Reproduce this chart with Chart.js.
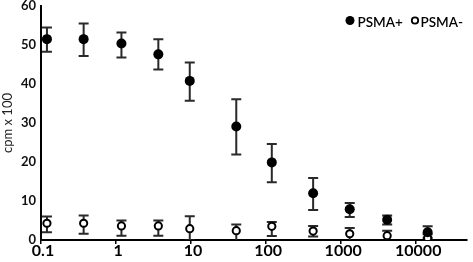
<!DOCTYPE html>
<html>
<head>
<meta charset="utf-8">
<script src="https://cdn.jsdelivr.net/npm/chart.js@4.4.1/dist/chart.umd.min.js"></script>
<style>
  html, body { margin: 0; padding: 0; background: #fff; }
  #wrap { width: 473px; height: 262px; }
</style>
</head>
<body>
<div id="wrap"><canvas id="chart"></canvas></div>
<script>
// concentrations (x, log scale)
const doses = [0.12, 0.37, 1.18, 3.66, 9.6, 40, 119, 423, 1300, 4100, 14200];

// PSMA+ cells: mean and error up / down
const psmaPos     = [51.5, 51.5, 50.4, 47.6, 40.8, 29.1, 19.9, 12.0, 7.9, 5.2, 2.0];
const psmaPosUp   = [3.0, 4.0, 2.8, 3.9, 4.7, 7.0, 4.7, 3.9, 1.6, 1.1, 1.5];
const psmaPosDown = [3.2, 4.3, 3.6, 3.9, 5.1, 7.2, 5.1, 4.3, 2.0, 1.2, 1.4];

// PSMA- cells
const psmaNeg     = [4.3, 4.3, 3.6, 3.6, 2.9, 2.4, 3.5, 2.3, 1.6, 1.1, 0.5];
const psmaNegUp   = [1.7, 2.0, 1.4, 1.4, 3.2, 1.6, 1.1, 1.3, 1.5, 1.3, 1.0];
const psmaNegDown = [2.3, 2.7, 2.5, 2.5, 3.0, 3.0, 2.5, 1.4, 2.0, 2.0, 1.0];

const xTicks = [0.1, 1, 10, 100, 1000, 10000];

Chart.defaults.font.family = 'Lato, "Open Sans", sans-serif';
Chart.defaults.color = '#111';

const errorBars = {
  id: 'errorBars',
  beforeDatasetsDraw(chart) {
    const { ctx, chartArea, scales: { x, y } } = chart;
    ctx.save();
    ctx.beginPath();
    ctx.rect(chartArea.left, chartArea.top, chartArea.width, chartArea.height);
    ctx.clip();
    ctx.strokeStyle = '#2a2a2a';
    ctx.lineWidth = 2;
    chart.data.datasets.forEach(ds => {
      ds.data.forEach((p, i) => {
        const px = x.getPixelForValue(p.x);
        const top = y.getPixelForValue(p.y + ds.errUp[i]);
        const bot = y.getPixelForValue(p.y - ds.errDown[i]);
        ctx.beginPath();
        ctx.moveTo(px, top); ctx.lineTo(px, bot);
        ctx.moveTo(px - 5, top); ctx.lineTo(px + 5, top);
        ctx.moveTo(px - 5, bot); ctx.lineTo(px + 5, bot);
        ctx.stroke();
      });
    });
    ctx.restore();
  }
};

// small legend in the top right corner
const cornerLegend = {
  id: 'cornerLegend',
  afterDraw(chart) {
    const ctx = chart.ctx;
    const [pos, neg] = chart.data.datasets;
    ctx.save();
    ctx.font = '600 13.5px Lato, "Open Sans", sans-serif';
    ctx.textBaseline = 'middle';
    ctx.fillStyle = '#000';
    ctx.beginPath();
    ctx.arc(350, 20.5, 4.5, 0, Math.PI * 2);
    ctx.fill();
    ctx.fillText(pos.label, 357.5, 23);
    ctx.beginPath();
    ctx.arc(415, 20.5, 3.2, 0, Math.PI * 2);
    ctx.lineWidth = 1.8;
    ctx.strokeStyle = '#000';
    ctx.stroke();
    ctx.fillText(neg.label, 420.5, 23);
    ctx.restore();
  }
};

new Chart(document.getElementById('chart'), {
  type: 'scatter',
  data: {
    datasets: [{
      label: 'PSMA+',
      data: doses.map((d, i) => ({ x: d, y: psmaPos[i] })),
      errUp: psmaPosUp,
      errDown: psmaPosDown,
      pointRadius: 5,
      pointBackgroundColor: '#000',
      pointBorderWidth: 0,
      showLine: false
    }, {
      label: 'PSMA-',
      data: doses.map((d, i) => ({ x: d, y: psmaNeg[i] })),
      errUp: psmaNegUp,
      errDown: psmaNegDown,
      pointRadius: 3.6,
      pointBackgroundColor: '#fff',
      pointBorderColor: '#000',
      pointBorderWidth: 2,
      showLine: false
    }]
  },
  options: {
    responsive: true,
    maintainAspectRatio: false,
    animation: false,
    layout: { padding: { top: 5, right: 0, left: 0, bottom: 0 } },
    plugins: { legend: { display: false }, tooltip: { enabled: false } },
    scales: {
      x: {
        type: 'logarithmic',
        min: 0.1,
        max: 47500,
        grid: { display: true, drawOnChartArea: false, drawTicks: true, tickLength: 4, color: '#000', lineWidth: 1.5 },
        border: { color: '#000', width: 2 },
        afterBuildTicks: scale => { scale.ticks = xTicks.map(v => ({ value: v })); },
        afterFit: scale => { scale.height = 22; scale.paddingLeft = 0; scale.paddingRight = 0; },
        ticks: {
          autoSkip: false,
          maxRotation: 0,
          padding: -3,
          labelOffset: 2,
          color: '#000',
          font: { size: 16, weight: 'bold' },
          callback: v => String(v)
        }
      },
      y: {
        min: 0,
        max: 60,
        grid: { display: false, drawTicks: false },
        border: { color: '#000', width: 2 },
        afterFit: scale => { scale.width = 41; scale.paddingTop = 0; scale.paddingBottom = 0; },
        ticks: {
          stepSize: 10,
          padding: 5,
          color: '#111',
          font: { size: 13, weight: 'bold' }
        },
        title: {
          display: true,
          text: 'cpm x 100',
          padding: 0,
          color: '#222',
          font: { size: 13 }
        }
      }
    }
  },
  plugins: [errorBars, cornerLegend]
});
</script>
</body>
</html>
